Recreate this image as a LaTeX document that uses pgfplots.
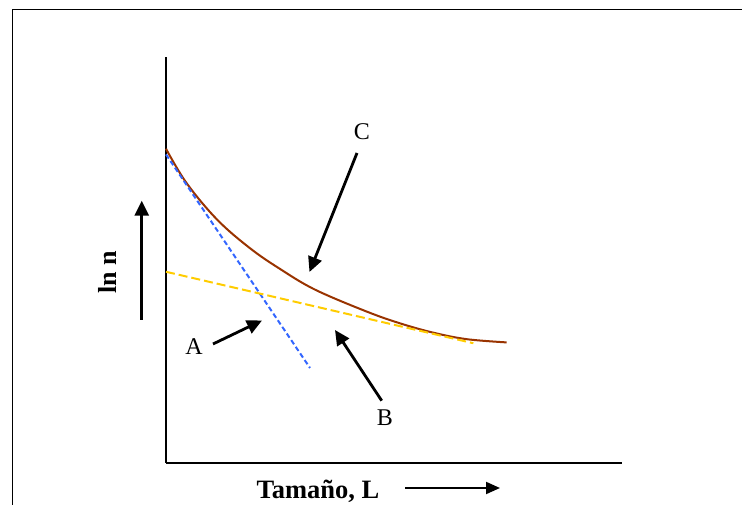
\documentclass[border=0pt]{standalone}
\usepackage{pgfplots}
\pgfplotsset{compat=1.18}
\usepackage{fontspec}
\setmainfont{Liberation Serif}
\usetikzlibrary{arrows.meta}
\definecolor{curvebrown}{RGB}{153,51,0}
\definecolor{lineblue}{RGB}{51,102,255}
\definecolor{lineyellow}{RGB}{255,204,0}

\begin{document}
\begin{tikzpicture}[x=1pt,y=1pt,
  arr/.style={line width=2.8pt,-{Triangle[length=15pt,width=14pt]}}]
\useasboundingbox (-166,-42) rectangle (576,463);
% outer frame
\draw[line width=0.9pt] (-154,-42) -- (-154,454) -- (576,454);

\begin{axis}[
  at={(0,0)}, anchor=south west,
  scale only axis, width=456pt, height=406pt,
  xmin=0, xmax=10, ymin=0, ymax=10,
  axis lines=left, axis line style={line width=2pt,-},
  ticks=none, clip=false]

% C: measured population density
\addplot[color=curvebrown, line width=2pt, smooth, tension=0.6] coordinates {
  (0,7.74) (0.454,6.89) (1.125,5.99) (1.842,5.29) (2.5,4.78)
  (3.268,4.27) (4.401,3.73) (5.132,3.44) (5.862,3.21)
  (6.594,3.05) (7.471,2.97)};

% A: small-size population
\addplot[color=lineblue, line width=2pt, dash pattern=on 5pt off 3pt] coordinates {
  (0,7.60) (3.158,2.34)};

% B: large-size population
\addplot[color=lineyellow, line width=2pt, dash pattern=on 9pt off 4pt] coordinates {
  (0,4.71) (6.74,2.95)};
\end{axis}

% labels and pointers
\node[font=\fontsize{24}{28}\selectfont] at (196,331) {C};
\draw[arr] (191,310) -- (143.5,191);

\node[font=\fontsize{24}{28}\selectfont] at (28,116) {A};
\draw[arr] (47,119) -- (96,142.5);

\node[font=\fontsize{24}{28}\selectfont] at (219,45) {B};
\draw[arr] (215.7,62.3) -- (169,133);

% axis titles
\node[rotate=90, font=\bfseries\fontsize{26}{30}\selectfont] at (-59,191) {ln n};
\draw[arr] (-24.3,143) -- (-24.3,262.3);

\node[anchor=base, font=\bfseries\fontsize{26.5}{30}\selectfont] at (152,-36) {Tamaño, L};
\draw[line width=2pt,-{Triangle[length=14pt,width=12pt]}] (239,-25) -- (334,-25);
\end{tikzpicture}
\end{document}
